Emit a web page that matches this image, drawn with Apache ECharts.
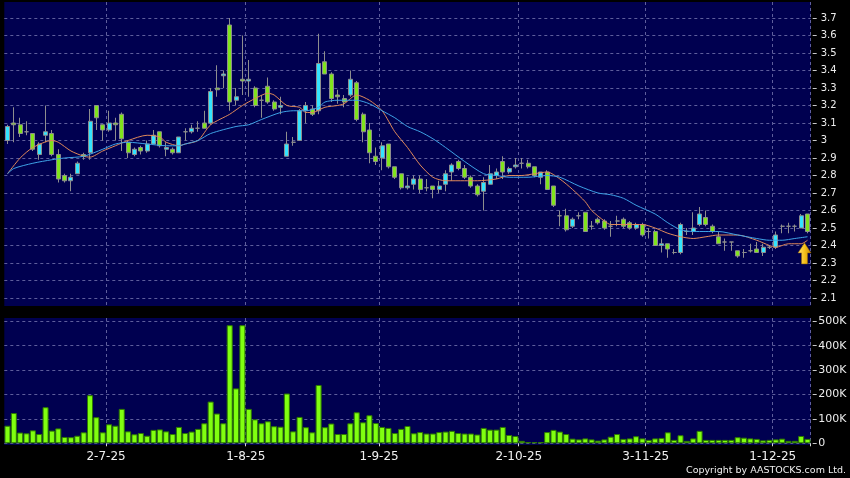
<!DOCTYPE html>
<html><head><meta charset="utf-8">
<script src="https://cdn.jsdelivr.net/npm/echarts@6/dist/echarts.min.js"></script>
<style>html,body{margin:0;padding:0;background:#000;}#c{width:850px;height:478px;}</style>
</head><body><div id="c"></div>
<script>
const dates = [
'9-6-25','10-6-25','11-6-25','12-6-25','13-6-25','16-6-25','17-6-25','18-6-25','19-6-25','20-6-25','23-6-25','24-6-25','25-6-25','26-6-25','27-6-25','30-6-25',
'2-7-25','3-7-25','4-7-25','7-7-25','8-7-25','9-7-25','10-7-25','11-7-25','14-7-25','15-7-25','16-7-25','17-7-25','18-7-25','21-7-25','22-7-25','23-7-25','24-7-25','25-7-25','28-7-25','29-7-25','30-7-25','31-7-25',
'1-8-25','4-8-25','5-8-25','6-8-25','7-8-25','8-8-25','11-8-25','12-8-25','13-8-25','14-8-25','15-8-25','18-8-25','19-8-25','20-8-25','21-8-25','22-8-25','25-8-25','26-8-25','27-8-25','28-8-25','29-8-25',
'1-9-25','2-9-25','3-9-25','4-9-25','5-9-25','8-9-25','9-9-25','10-9-25','11-9-25','12-9-25','15-9-25','16-9-25','17-9-25','18-9-25','19-9-25','22-9-25','23-9-25','24-9-25','25-9-25','26-9-25','29-9-25','30-9-25',
'2-10-25','3-10-25','6-10-25','8-10-25','9-10-25','10-10-25','13-10-25','14-10-25','15-10-25','16-10-25','17-10-25','20-10-25','21-10-25','22-10-25','23-10-25','24-10-25','27-10-25','28-10-25','30-10-25','31-10-25',
'3-11-25','4-11-25','5-11-25','6-11-25','7-11-25','10-11-25','11-11-25','12-11-25','13-11-25','14-11-25','17-11-25','18-11-25','19-11-25','20-11-25','21-11-25','24-11-25','25-11-25','26-11-25','27-11-25','28-11-25',
'1-12-25','2-12-25','3-12-25','4-12-25','5-12-25','8-12-25'];

const tickLabels = ['2-7-25','1-8-25','1-9-25','2-10-25','3-11-25','1-12-25'];
const priceRange = { min: 2.1, max: 3.7, step: 0.1 };
const volumeRange = { min: 0, max: 500000, step: 100000 };

const opens = [
3.00,3.10,3.09,3.05,3.04,2.92,3.03,3.04,2.92,2.80,
2.77,2.81,2.92,2.93,3.20,3.09,3.06,3.10,3.15,2.99,
2.92,2.96,2.94,2.98,3.05,2.95,2.95,2.93,3.05,3.05,
3.07,3.10,3.10,3.30,3.37,3.66,3.23,3.35,3.34,3.30,
3.23,3.31,3.22,3.19,2.91,2.99,3.00,3.17,3.18,3.17,
3.45,3.38,3.26,3.24,3.26,3.33,3.15,3.06,2.91,2.90,
2.98,2.85,2.81,2.73,2.75,2.78,2.73,2.74,2.72,2.75,
2.82,2.88,2.84,2.79,2.74,2.71,2.75,2.80,2.88,2.82,
2.85,2.87,2.87,2.85,2.79,2.82,2.74,2.57,2.57,2.51,
2.57,2.59,2.51,2.55,2.54,2.51,2.54,2.55,2.53,2.50,
2.52,2.48,2.48,2.40,2.41,2.36,2.36,2.48,2.48,2.52,
2.56,2.51,2.45,2.42,2.42,2.37,2.36,2.37,2.38,2.36,
2.39,2.39,2.51,2.51,2.51,2.50,2.58];
const closes = [
3.08,3.09,3.04,3.05,2.95,2.98,3.05,2.92,2.78,2.77,
2.79,2.87,2.91,3.11,3.13,3.06,3.10,3.09,3.01,2.93,
2.95,2.94,2.98,3.03,2.97,2.96,2.93,3.02,3.05,3.07,
3.07,3.07,3.28,3.29,3.38,3.22,3.25,3.34,3.35,3.20,
3.23,3.22,3.18,3.20,2.98,2.99,3.17,3.20,3.15,3.44,
3.38,3.24,3.25,3.22,3.35,3.12,3.05,2.93,2.88,2.97,
2.85,2.79,2.73,2.74,2.78,2.72,2.73,2.72,2.74,2.81,
2.86,2.84,2.79,2.74,2.69,2.76,2.81,2.82,2.82,2.84,
2.86,2.87,2.85,2.80,2.82,2.72,2.63,2.57,2.49,2.55,
2.57,2.48,2.51,2.53,2.50,2.51,2.54,2.51,2.50,2.52,
2.46,2.48,2.40,2.41,2.38,2.36,2.52,2.48,2.50,2.58,
2.52,2.48,2.41,2.42,2.42,2.34,2.36,2.37,2.36,2.39,
2.39,2.46,2.51,2.51,2.51,2.57,2.48];
const lows = [
2.98,2.99,3.02,3.03,2.94,2.89,2.99,2.91,2.76,2.76,
2.71,2.81,2.89,2.89,3.06,3.00,3.05,3.00,2.94,2.90,
2.91,2.92,2.93,2.98,2.96,2.91,2.92,2.93,3.00,3.04,
3.05,3.07,3.09,3.25,3.30,3.17,3.20,3.26,3.25,3.19,
3.13,3.21,3.17,3.15,2.91,2.97,3.00,3.10,3.14,3.15,
3.38,3.22,3.21,3.19,3.25,3.11,2.99,2.87,2.86,2.83,
2.84,2.78,2.72,2.72,2.72,2.70,2.71,2.67,2.70,2.71,
2.77,2.83,2.78,2.73,2.68,2.60,2.75,2.78,2.78,2.81,
2.84,2.84,2.84,2.79,2.75,2.72,2.62,2.51,2.48,2.50,
2.55,2.48,2.49,2.52,2.49,2.45,2.51,2.50,2.49,2.49,
2.45,2.44,2.40,2.36,2.33,2.35,2.35,2.46,2.46,2.51,
2.51,2.47,2.41,2.37,2.37,2.33,2.33,2.36,2.36,2.34,
2.38,2.38,2.47,2.47,2.48,2.50,2.47];
const highs = [
3.09,3.19,3.13,3.11,3.04,2.99,3.20,3.06,2.95,2.81,
2.81,2.88,2.93,3.18,3.20,3.09,3.17,3.13,3.16,3.00,
2.96,2.97,3.00,3.06,3.05,2.99,2.96,3.02,3.07,3.09,
3.11,3.17,3.30,3.43,3.40,3.70,3.30,3.60,3.46,3.31,
3.26,3.36,3.23,3.25,3.05,3.02,3.18,3.22,3.20,3.61,
3.51,3.39,3.29,3.26,3.40,3.34,3.16,3.10,2.96,2.99,
2.98,2.85,2.81,2.79,2.80,2.80,2.78,2.74,2.77,2.83,
2.87,2.89,2.86,2.80,2.75,2.79,2.86,2.84,2.91,2.85,
2.90,2.90,2.89,2.85,2.82,2.83,2.74,2.60,2.61,2.56,
2.59,2.59,2.54,2.56,2.55,2.54,2.57,2.56,2.54,2.53,
2.53,2.50,2.49,2.44,2.41,2.38,2.53,2.50,2.59,2.62,
2.60,2.52,2.48,2.44,2.42,2.37,2.38,2.41,2.42,2.41,
2.40,2.48,2.52,2.53,2.52,2.58,2.58];
const volumes = [
72000,124000,44000,41000,53000,38000,148000,52000,61000,26000,
25000,31000,45000,197000,107000,45000,78000,72000,141000,49000,
37000,42000,31000,55000,57000,49000,38000,67000,42000,48000,
59000,82000,171000,122000,82000,484000,225000,484000,141000,98000,
82000,90000,70000,68000,204000,49000,108000,66000,45000,239000,
66000,81000,38000,38000,82000,127000,86000,115000,83000,67000,
63000,42000,59000,71000,41000,46000,40000,40000,46000,48000,
51000,42000,40000,40000,36000,63000,56000,56000,67000,34000,
30000,10000,5000,5000,5000,46000,55000,48000,38000,19000,
16000,20000,16000,11000,16000,27000,38000,18000,20000,29000,
20000,14000,20000,22000,45000,14000,33000,10000,20000,51000,
14000,14000,14000,14000,14000,25000,23000,20000,18000,12000,
14000,16000,19000,10000,10000,30000,18000];
// moving averages: [bar index, value]
const ma10 = [[0,2.81],[2,2.90],[4,2.96],[7,3.00],[8,2.99],[10,2.94],[12,2.91],[13,2.905],[15,2.94],[17,2.97],[19,3.00],[22,3.03],[24,3.02],[25,2.99],[27,2.97],[28,2.98],[30,3.00],[32,3.09],[35,3.15],[37,3.20],[39,3.24],[41,3.27],[42,3.26],[44,3.20],[46,3.19],[47,3.16],[48,3.16],[50,3.19],[52,3.20],[53,3.21],[55,3.26],[57,3.23],[59,3.17],[61,3.05],[63,2.96],[65,2.86],[67,2.79],[69,2.77],[72,2.77],[74,2.77],[77,2.78],[79,2.80],[81,2.80],[83,2.81],[85,2.82],[87,2.78],[89,2.72],[91,2.65],[92,2.60],[94,2.54],[95,2.52],[98,2.52],[100,2.52],[102,2.50],[104,2.47],[106,2.45],[108,2.44],[110,2.45],[112,2.46],[115,2.46],[118,2.43],[120,2.40],[121,2.39],[123,2.41],[125,2.41],[126,2.43]];
const ma20 = [[0,2.81],[1,2.84],[4,2.87],[7,2.89],[9,2.90],[12,2.91],[15,2.95],[17,2.98],[19,2.99],[22,2.98],[25,2.97],[27,2.97],[28,2.98],[30,3.00],[32,3.04],[36,3.08],[38,3.09],[40,3.12],[43,3.16],[45,3.17],[47,3.17],[49,3.19],[50,3.22],[52,3.23],[55,3.23],[57,3.21],[59,3.17],[61,3.13],[63,3.08],[65,3.05],[67,3.01],[69,2.96],[72,2.88],[75,2.81],[77,2.80],[79,2.79],[82,2.79],[85,2.80],[87,2.79],[90,2.74],[93,2.70],[95,2.69],[97,2.67],[99,2.63],[102,2.58],[104,2.53],[106,2.49],[108,2.48],[110,2.48],[112,2.48],[115,2.46],[118,2.44],[120,2.43],[122,2.43],[124,2.44],[126,2.45]];
const arrowMark = { date: '8-12-25', price: 2.355 };

const NAVY = '#000050';
const GRIDLINE = { color: '#5e5e9c', width: 1, type: [3, 3] };
const FONT = 'DejaVu Sans';
const isTick = (i, v) => tickLabels.indexOf(v) >= 0;
const PL = 4.3, PW = 806.4;

const chart = echarts.init(document.getElementById('c'), null, { renderer: 'canvas', width: 850, height: 478 });
chart.setOption({
  backgroundColor: '#000',
  animation: false,
  graphic: [
    { type: 'rect', z: -10, silent: true, shape: { x: PL, y: 2, width: PW, height: 304 }, style: { fill: NAVY } },
    { type: 'rect', z: -10, silent: true, shape: { x: PL, y: 318, width: PW, height: 127 }, style: { fill: NAVY } },
    { type: 'text', z: 10, silent: true, style: { text: 'Copyright by AASTOCKS.com Ltd.', x: 846, y: 471, align: 'right', verticalAlign: 'middle', fill: '#f0f0f0', font: '9.5px "DejaVu Sans"' } }
  ],
  grid: [
    { left: PL, width: PW, top: 18, height: 280, containLabel: false, outerBoundsMode: 'none' },
    { left: PL, width: PW, top: 321.3, height: 122, containLabel: false, outerBoundsMode: 'none' },
    { left: PL, width: PW, top: 2, height: 304, containLabel: false, outerBoundsMode: 'none' },
    { left: PL, width: PW, top: 318, height: 127, containLabel: false, outerBoundsMode: 'none' }
  ],
  xAxis: [
    { type: 'category', gridIndex: 0, data: dates, boundaryGap: true, axisLine: { show: false }, axisTick: { show: false }, axisLabel: { show: false }, splitLine: { show: false } },
    { type: 'category', gridIndex: 1, data: dates, boundaryGap: true, offset: 3,
      axisLine: { show: false },
      axisTick: { show: true, interval: isTick, length: 3, lineStyle: { color: '#d8d8d8' } },
      axisLabel: { interval: isTick, margin: 5, color: '#f0f0f0', fontSize: 12, fontFamily: FONT, padding: [0, 6, 0, 0] },
      splitLine: { show: false } },
    { type: 'category', gridIndex: 2, data: dates, boundaryGap: true, axisLine: { show: false }, axisTick: { show: false }, axisLabel: { show: false }, splitLine: { show: true, interval: isTick, lineStyle: GRIDLINE } },
    { type: 'category', gridIndex: 3, data: dates, boundaryGap: true, axisLine: { show: false }, axisTick: { show: false }, axisLabel: { show: false }, splitLine: { show: true, interval: isTick, lineStyle: GRIDLINE } }
  ],
  yAxis: [
    { type: 'value', gridIndex: 0, position: 'right', min: priceRange.min, max: priceRange.max, interval: priceRange.step, offset: 2,
      axisLine: { show: false },
      axisTick: { show: true, length: 4, lineStyle: { color: '#c8c8c8', width: 1 } },
      axisLabel: { margin: 8, color: '#ececec', fontSize: 10, fontFamily: FONT, formatter: v => String(+(+v).toFixed(1)) },
      splitLine: { show: true, lineStyle: GRIDLINE } },
    { type: 'value', gridIndex: 1, position: 'right', min: volumeRange.min, max: volumeRange.max, interval: volumeRange.step, offset: 2,
      axisLine: { show: false },
      axisTick: { show: true, length: 4, lineStyle: { color: '#c8c8c8', width: 1 } },
      axisLabel: { margin: 5.5, color: '#ececec', fontSize: 11, fontFamily: FONT, formatter: v => v === 0 ? '0' : (v / 1000) + 'K' },
      splitLine: { show: true, lineStyle: GRIDLINE } },
    { type: 'value', gridIndex: 2, show: false, min: 0, max: 1 },
    { type: 'value', gridIndex: 3, show: false, min: 0, max: 1 }
  ],
  series: [
    { type: 'candlestick', xAxisIndex: 0, yAxisIndex: 0, barWidth: 4.5, z: 2, clip: false,
      data: opens.map((o, i) => [o, closes[i], lows[i], highs[i]]),
      itemStyle: { color: '#33e4ff', color0: '#80e41c', borderColor: '#8e8e8e', borderColor0: '#8e8e8e', borderWidth: 1 },
      markPoint: {
        silent: true,
        symbol: 'path://M6.5,0 L13,10 L9.5,10 L9.5,21 L3.5,21 L3.5,10 L0,10 Z',
        symbolSize: [13, 21], symbolOffset: [-3, 0],
        label: { show: false },
        itemStyle: { color: new echarts.graphic.LinearGradient(0, 0, 1, 0, [{ offset: 0, color: '#ffe27a' }, { offset: 0.5, color: '#f6c21c' }, { offset: 1, color: '#c98a00' }]), borderColor: '#9a6a00', borderWidth: 0.5 },
        data: [{ coord: [arrowMark.date, arrowMark.price] }]
      } },
    { type: 'line', xAxisIndex: 0, yAxisIndex: 0, data: ma10, showSymbol: false, smooth: 0.25, z: 3, lineStyle: { color: '#e0895a', width: 1 } },
    { type: 'line', xAxisIndex: 0, yAxisIndex: 0, data: ma20, showSymbol: false, smooth: 0.25, z: 3, lineStyle: { color: '#3ea2e6', width: 1 } },
    { type: 'bar', xAxisIndex: 1, yAxisIndex: 1, data: volumes, barWidth: '95%',
      itemStyle: { color: '#80ff10', borderColor: '#2e7a00', borderWidth: 1 } }
  ]
});
</script></body></html>
